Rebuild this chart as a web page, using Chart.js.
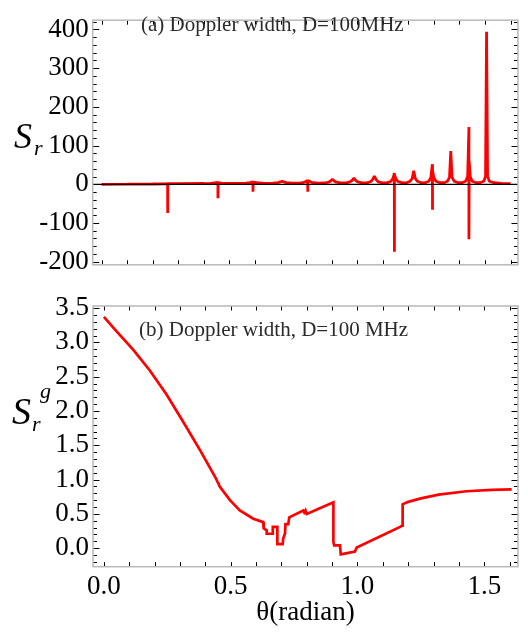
<!DOCTYPE html>
<html lang="en">
<head>
  <meta charset="UTF-8">
  <title>Sr vs theta</title>
  <script src="https://cdn.jsdelivr.net/npm/chart.js"></script>
  <style>
    body { margin: 0; background: #fff; }
    .panel { position: absolute; left: 0; }
    #topChart { top: 0; }
    #bottomChart { top: 285px; }
  </style>
</head>
<body>

  <canvas id="topChart" class="panel" width="528" height="285"></canvas>
  <canvas id="bottomChart" class="panel" width="528" height="347"></canvas>

  <script>
    // (a) S_r against theta, resonance spikes
    const thetaA = [
      0.000, 0.100, 0.200, 0.250, 0.258, 0.258, 0.259, 0.300, 0.400, 0.425,
      0.440, 0.455, 0.455, 0.456, 0.470, 0.495, 0.540, 0.565, 0.580, 0.592,
      0.592, 0.593, 0.607, 0.635, 0.670, 0.690, 0.699, 0.706, 0.713, 0.722,
      0.745, 0.775, 0.791, 0.799, 0.806, 0.806, 0.807, 0.814, 0.822, 0.845,
      0.873, 0.888, 0.896, 0.903, 0.910, 0.918, 0.935, 0.957, 0.972, 0.980,
      0.987, 0.994, 1.002, 1.020, 1.037, 1.052, 1.060, 1.067, 1.074, 1.082,
      1.100, 1.115, 1.130, 1.138, 1.143, 1.145, 1.145, 1.146, 1.152, 1.160,
      1.178, 1.193, 1.207, 1.215, 1.221, 1.227, 1.235, 1.252, 1.266, 1.280,
      1.288, 1.294, 1.294, 1.295, 1.300, 1.308, 1.324, 1.340, 1.353, 1.361,
      1.366, 1.371, 1.379, 1.395, 1.410, 1.424, 1.432, 1.437, 1.437, 1.438,
      1.442, 1.450, 1.466, 1.480, 1.495, 1.502, 1.506, 1.510, 1.517, 1.535,
      1.565, 1.600
    ];
    const srA = [
      0, 0.3, 0.8, 1.2, 1.5, -74, 1.5, 1.5, 2, 2.5,
      3.5, 5, -36, 4.5, 3.2, 2.3, 2.3, 3, 4.5, 6,
      -19, 5.5, 4, 2.6, 3, 4.5, 6, 8, 6, 4.5,
      3, 3.2, 5, 7.5, 10, -19, 9.5, 7.5, 5, 3.2,
      3.3, 5.5, 8.5, 13, 8.5, 5.5, 3.5, 3.5, 6, 10,
      16, 10, 6, 3.5, 3.5, 6.5, 12, 21, 12, 6.5,
      3.5, 3.5, 7, 13, 22, 29, -174, 24, 13, 7,
      3.5, 3.8, 8, 15, 35, 15, 8, 3.8, 4, 8,
      17, 52, -66, 35, 17, 8, 4, 4, 8, 18,
      86, 18, 8, 4, 4, 8, 20, 148, -142, 60,
      20, 8, 4, 4, 8, 20, 394, 20, 8, 4,
      2.5, 2
    ];
    const yTicksA = [-200, -100, 0, 100, 200, 300, 400];

    // (b) S_r^g against theta
    const thetaB = [
      0.000, 0.050, 0.116, 0.181, 0.247, 0.313, 0.379, 0.440, 0.450, 0.453,
      0.456, 0.497, 0.536, 0.589, 0.628, 0.630, 0.642, 0.642, 0.665, 0.666,
      0.684, 0.684, 0.705, 0.707, 0.714, 0.716, 0.727, 0.731, 0.786, 0.790,
      0.795, 0.800, 0.905, 0.905, 0.908, 0.931, 0.934, 0.990, 0.997, 1.168,
      1.176, 1.178, 1.200, 1.250, 1.320, 1.430, 1.530, 1.608
    ];
    const srgB = [
      3.37, 3.16, 2.89, 2.59, 2.24, 1.84, 1.43, 1.03, 0.95, 0.93,
      0.90, 0.70, 0.55, 0.43, 0.38, 0.29, 0.26, 0.21, 0.21, 0.31,
      0.31, 0.06, 0.06, 0.14, 0.21, 0.35, 0.35, 0.45, 0.55, 0.52,
      0.55, 0.50, 0.67, 0.09, 0.04, 0.04, -0.09, -0.05, 0.01, 0.31,
      0.33, 0.64, 0.675, 0.725, 0.78, 0.83, 0.85, 0.856
    ];
    const xTicksB = [0, 0.5, 1.0, 1.5];
    const yTicksB = [0.0, 0.5, 1.0, 1.5, 2.0, 2.5, 3.0, 3.5];

    const serif = '"Liberation Serif", "Times New Roman", serif';

    // gray frame with small inward ticks on all four sides
    const frameTicks = {
      id: 'frameTicks',
      afterDraw(chart, args, o) {
        const { ctx, chartArea: a, scales: { x, y } } = chart;
        ctx.save();
        ctx.strokeStyle = '#000';
        ctx.lineWidth = 1;
        ctx.beginPath();
        for (let i = 0; i <= o.xCount; i++) {
          const px = Math.round(x.getPixelForValue(i * o.xStep)) + 0.5;
          ctx.moveTo(px, a.bottom); ctx.lineTo(px, a.bottom - 4.5);
          ctx.moveTo(px, a.top); ctx.lineTo(px, a.top + 4.5);
        }
        for (let i = 0; i <= o.yCount; i++) {
          const v = o.yFrom + i * o.yStep;
          const py = Math.round(y.getPixelForValue(v)) + 0.5;
          const len = Math.abs(Math.round(v / o.yStep)) % o.yMajor === 0 ? 6.5 : 4;
          ctx.moveTo(a.left, py); ctx.lineTo(a.left + len, py);
          ctx.moveTo(a.right, py); ctx.lineTo(a.right - len, py);
        }
        ctx.stroke();
        ctx.strokeStyle = '#b9b9b9';
        ctx.lineWidth = 1.5;
        ctx.strokeRect(a.left, a.top, a.right - a.left, a.bottom - a.top);
        ctx.restore();
      }
    };

    // zero axis through panel (a)
    const zeroLine = {
      id: 'zeroLine',
      afterDatasetsDraw(chart, args, o) {
        if (!o.show) return;
        const { ctx, chartArea: a, scales: { y } } = chart;
        const py = y.getPixelForValue(0);
        ctx.save();
        ctx.strokeStyle = '#000';
        ctx.lineWidth = 1.3;
        ctx.beginPath();
        ctx.moveTo(a.left, py); ctx.lineTo(a.right, py);
        ctx.stroke();
        ctx.restore();
      }
    };

    // panel caption and the S symbol with sub/superscripts
    const labels = {
      id: 'labels',
      afterDraw(chart, args, o) {
        const ctx = chart.ctx;
        ctx.save();
        ctx.textBaseline = 'alphabetic';
        ctx.textAlign = 'left';
        ctx.fillStyle = '#2a2a2a';
        ctx.font = '21px ' + serif;
        ctx.fillText(o.caption, o.capX, o.capY);
        ctx.fillStyle = '#000';
        ctx.font = 'italic ' + o.sSize + 'px ' + serif;
        ctx.fillText('S', o.sX, o.sY);
        ctx.font = 'italic 22px ' + serif;
        ctx.fillText('r', o.sX + 20, o.sY + 7);
        if (o.sup) ctx.fillText(o.sup, o.sX + 28, o.sY - 26);
        ctx.restore();
      }
    };

    const tickFont = { family: serif, size: 27 };

    new Chart(document.getElementById('topChart'), {
      type: 'line',
      data: {
        datasets: [{
          data: thetaA.map((t, i) => ({ x: t, y: srA[i] })),
          borderColor: '#ff0000',
          borderWidth: 2.8,
          borderJoinStyle: 'bevel',
          pointRadius: 0,
          tension: 0
        }]
      },
      options: {
        responsive: false,
        devicePixelRatio: 1,
        animation: false,
        layout: { padding: { left: 0, right: 10, top: 3.3, bottom: 0 } },
        scales: {
          x: {
            type: 'linear', min: -0.035, max: 1.629,
            grid: { display: false, drawTicks: false },
            border: { display: false },
            ticks: { display: false },
            afterFit: s => { s.height = 18.3; }
          },
          y: {
            min: -208, max: 424,
            afterBuildTicks: s => { s.ticks = yTicksA.map(v => ({ value: v })); },
            grid: { display: false, drawTicks: false },
            border: { display: false },
            ticks: { font: tickFont, color: '#000', padding: 4 },
            afterFit: s => { s.width = 92.7; }
          }
        },
        plugins: {
          legend: { display: false },
          tooltip: { enabled: false },
          frameTicks: { xStep: 0.1, xCount: 16, yFrom: -200, yStep: 20, yCount: 31, yMajor: 5 },
          zeroLine: { show: true },
          labels: { caption: '(a) Doppler width, D=100MHz', capX: 141, capY: 31,
                    sX: 14, sY: 148, sSize: 36 }
        }
      },
      plugins: [frameTicks, zeroLine, labels]
    });

    new Chart(document.getElementById('bottomChart'), {
      type: 'line',
      data: {
        datasets: [{
          data: thetaB.map((t, i) => ({ x: t, y: srgB[i] })),
          borderColor: '#ff0000',
          borderWidth: 2.7,
          borderJoinStyle: 'miter',
          pointRadius: 0,
          tension: 0
        }]
      },
      options: {
        responsive: false,
        devicePixelRatio: 1,
        animation: false,
        layout: { padding: { left: 0, right: 10, top: 21, bottom: 0 } },
        scales: {
          x: {
            type: 'linear', min: -0.043, max: 1.633,
            afterBuildTicks: s => { s.ticks = xTicksB.map(v => ({ value: v })); },
            grid: { display: false, drawTicks: false },
            border: { display: false },
            ticks: { font: tickFont, color: '#000', padding: 4, maxRotation: 0,
                     callback: v => v.toFixed(1) },
            title: { display: true, text: 'θ(radian)', color: '#000',
                     font: { family: serif, size: 27 }, padding: { top: 0, bottom: 3 } },
            afterFit: s => { s.height = 65.3; }
          },
          y: {
            min: -0.27, max: 3.53,
            afterBuildTicks: s => { s.ticks = yTicksB.map(v => ({ value: v })); },
            grid: { display: false, drawTicks: false },
            border: { display: false },
            ticks: { font: tickFont, color: '#000', padding: 4, callback: v => v.toFixed(1) },
            afterFit: s => { s.width = 93; }
          }
        },
        plugins: {
          legend: { display: false },
          tooltip: { enabled: false },
          frameTicks: { xStep: 0.1, xCount: 16, yFrom: -0.2, yStep: 0.1, yCount: 37, yMajor: 5 },
          zeroLine: { show: false },
          labels: { caption: '(b) Doppler width, D=100 MHz', capX: 139, capY: 51,
                    sX: 12, sY: 139, sSize: 38, sup: 'g' }
        }
      },
      plugins: [frameTicks, zeroLine, labels]
    });
  </script>

</body>
</html>
